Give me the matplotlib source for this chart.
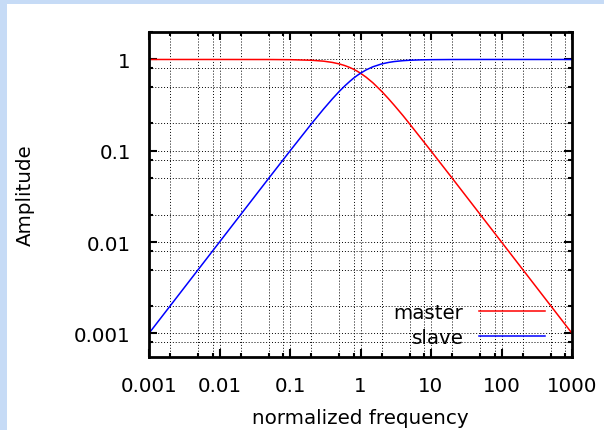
import matplotlib
matplotlib.use("Agg")
import matplotlib.pyplot as plt
from matplotlib.patches import Rectangle
from matplotlib.ticker import LogLocator, NullFormatter, FixedFormatter, FixedLocator

plt.rcParams['font.family'] = ['DejaVu Sans']

# values
freq = [0.001, 0.01, 0.05, 0.1, 0.2, 0.3, 0.4, 0.5, 0.6, 0.7, 0.8, 0.9, 1,
        1.2, 1.5, 2, 2.5, 3, 4, 5, 7, 10, 20, 50, 100, 1000]
master = [1.0, 1.0, 0.999, 0.995, 0.981, 0.958, 0.928, 0.894, 0.857, 0.819,
          0.781, 0.743, 0.707, 0.640, 0.555, 0.447, 0.371, 0.316, 0.243,
          0.196, 0.141, 0.0995, 0.05, 0.02, 0.01, 0.001]
slave = [0.001, 0.01, 0.05, 0.0995, 0.196, 0.287, 0.371, 0.447, 0.514, 0.573,
         0.625, 0.669, 0.707, 0.768, 0.832, 0.894, 0.928, 0.949, 0.970,
         0.981, 0.990, 0.995, 0.999, 1.0, 1.0, 1.0]

x_ticks = [0.001, 0.01, 0.1, 1, 10, 100, 1000]
x_labels = ['0.001', '0.01', '0.1', '1', '10', '100', '1000']
y_ticks = [0.001, 0.01, 0.1, 1]
y_labels = ['0.001', '0.01', '0.1', '1']

fs = 14.3

fig = plt.figure(figsize=(6.04, 4.31), dpi=100)
fig.patch.set_facecolor('white')

# light blue page edges
fig.patches.append(Rectangle((0, 0), 7 / 604, 1, transform=fig.transFigure,
                             facecolor='#c6dbf6', edgecolor='none', zorder=0))
fig.patches.append(Rectangle((0, 1 - 5 / 431), 1, 5 / 431, transform=fig.transFigure,
                             facecolor='#c6dbf6', edgecolor='none', zorder=0))

ax = fig.add_axes([149 / 604, 73 / 431, 423 / 604, 325 / 431])
ax.plot(freq, master, color='#ff0000', lw=1.1, label='master')
ax.plot(freq, slave, color='#0000ff', lw=1.1, label='slave')

ax.set_xscale('log')
ax.set_yscale('log')
ax.set_xlim(0.001, 1000)
ax.set_ylim(0.00055, 2)

ax.xaxis.set_major_locator(FixedLocator(x_ticks))
ax.xaxis.set_major_formatter(FixedFormatter(x_labels))
ax.yaxis.set_major_locator(FixedLocator(y_ticks))
ax.yaxis.set_major_formatter(FixedFormatter(y_labels))
ax.xaxis.set_minor_locator(LogLocator(base=10, subs=(2, 5, 8), numticks=20))
ax.yaxis.set_minor_locator(LogLocator(base=10, subs=(2, 5, 8), numticks=20))
ax.xaxis.set_minor_formatter(NullFormatter())
ax.yaxis.set_minor_formatter(NullFormatter())

ax.tick_params(which='both', direction='in', top=True, right=True, width=1.5)
ax.tick_params(which='major', length=6, labelsize=fs)
ax.tick_params(which='minor', length=3)
ax.tick_params(axis='x', which='major', pad=14)
ax.tick_params(axis='y', which='major', pad=13)

ax.grid(True, which='both', color='black', lw=0.7, linestyle=(0, (1, 2)))
for s in ax.spines.values():
    s.set_linewidth(2)

ax.set_xlabel('normalized frequency', fontsize=fs, labelpad=9)
ax.set_ylabel('Amplitude', fontsize=fs, labelpad=28)

leg = ax.legend(loc='lower right', bbox_to_anchor=(0.936, 0.03), frameon=False,
                markerfirst=False, fontsize=fs, handlelength=3.3, handletextpad=0.8,
                labelspacing=0.3, borderpad=0, borderaxespad=0)

fig.savefig('out.png', dpi=100)
